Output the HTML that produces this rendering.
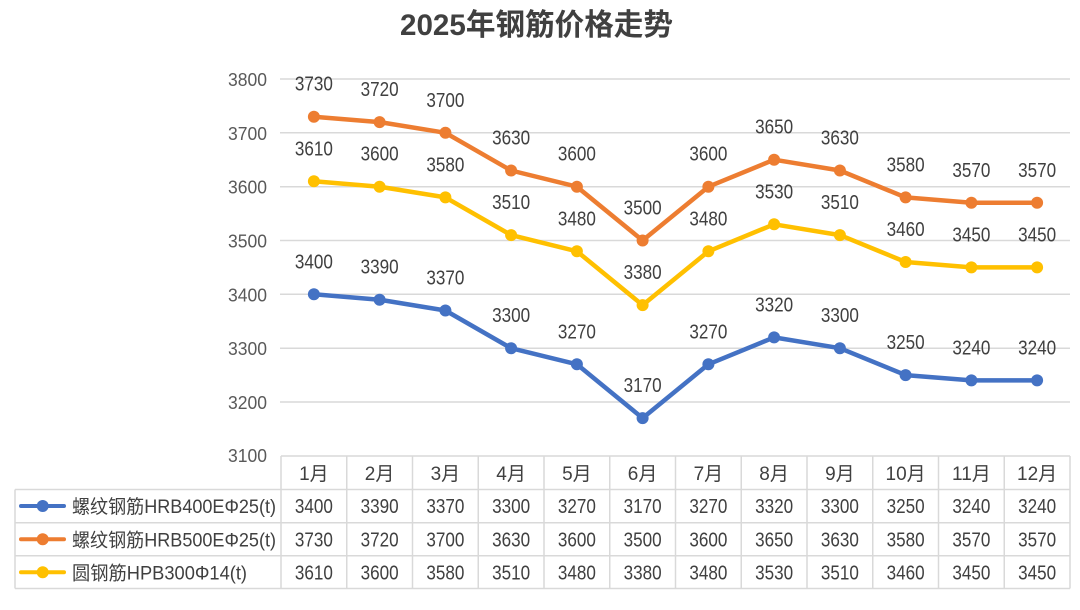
<!DOCTYPE html>
<html>
<head>
<meta charset="utf-8">
<style>
  html,body{margin:0;padding:0;background:#fff;}
  body{width:1080px;height:610px;overflow:hidden;}
  svg{display:block;}
  text{font-family:"Liberation Sans","Noto Sans CJK SC",sans-serif;}
</style>
</head>
<body>
<svg width="1080" height="610" viewBox="0 0 1080 610" xmlns="http://www.w3.org/2000/svg">
  <rect width="1080" height="610" fill="#ffffff"/>

  <!-- Title -->
  <text x="536.5" y="35" text-anchor="middle" font-size="30" font-weight="bold" fill="#404040" textLength="273" lengthAdjust="spacingAndGlyphs">2025年钢筋价格走势</text>

  <!-- Gridlines -->
  <g stroke="#d9d9d9" stroke-width="1.5">
    <line x1="280" y1="79" x2="1070" y2="79"/>
    <line x1="280" y1="132.8" x2="1070" y2="132.8"/>
    <line x1="280" y1="186.7" x2="1070" y2="186.7"/>
    <line x1="280" y1="240.5" x2="1070" y2="240.5"/>
    <line x1="280" y1="294.3" x2="1070" y2="294.3"/>
    <line x1="280" y1="348.2" x2="1070" y2="348.2"/>
    <line x1="280" y1="402" x2="1070" y2="402"/>
  </g>

  <!-- Y axis labels -->
  <g font-size="18" fill="#595959" text-anchor="end">
    <text x="267" y="86" textLength="39" lengthAdjust="spacingAndGlyphs">3800</text>
    <text x="267" y="139.8" textLength="39" lengthAdjust="spacingAndGlyphs">3700</text>
    <text x="267" y="193.7" textLength="39" lengthAdjust="spacingAndGlyphs">3600</text>
    <text x="267" y="247.5" textLength="39" lengthAdjust="spacingAndGlyphs">3500</text>
    <text x="267" y="301.3" textLength="39" lengthAdjust="spacingAndGlyphs">3400</text>
    <text x="267" y="355.2" textLength="39" lengthAdjust="spacingAndGlyphs">3300</text>
    <text x="267" y="409" textLength="39" lengthAdjust="spacingAndGlyphs">3200</text>
    <text x="267" y="462" textLength="39" lengthAdjust="spacingAndGlyphs">3100</text>
  </g>

  <!-- Series: orange HRB500E -->
  <polyline fill="none" stroke="#ED7D31" stroke-width="4.5" stroke-linejoin="round"
    points="313.9,116.7 379.6,122.1 445.4,132.8 511.1,170.5 576.9,186.7 642.6,240.5 708.4,186.7 774.1,159.7 839.9,170.5 905.6,197.4 971.4,202.8 1037.1,202.8"/>
  <g fill="#ED7D31">
    <circle cx="313.9" cy="116.7" r="6"/><circle cx="379.6" cy="122.1" r="6"/><circle cx="445.4" cy="132.8" r="6"/>
    <circle cx="511.1" cy="170.5" r="6"/><circle cx="576.9" cy="186.7" r="6"/><circle cx="642.6" cy="240.5" r="6"/>
    <circle cx="708.4" cy="186.7" r="6"/><circle cx="774.1" cy="159.7" r="6"/><circle cx="839.9" cy="170.5" r="6"/>
    <circle cx="905.6" cy="197.4" r="6"/><circle cx="971.4" cy="202.8" r="6"/><circle cx="1037.1" cy="202.8" r="6"/>
  </g>

  <!-- Series: yellow HPB300 -->
  <polyline fill="none" stroke="#FFC000" stroke-width="4.5" stroke-linejoin="round"
    points="313.9,181.3 379.6,186.7 445.4,197.4 511.1,235.1 576.9,251.3 642.6,305.1 708.4,251.3 774.1,224.3 839.9,235.1 905.6,262 971.4,267.4 1037.1,267.4"/>
  <g fill="#FFC000">
    <circle cx="313.9" cy="181.3" r="6"/><circle cx="379.6" cy="186.7" r="6"/><circle cx="445.4" cy="197.4" r="6"/>
    <circle cx="511.1" cy="235.1" r="6"/><circle cx="576.9" cy="251.3" r="6"/><circle cx="642.6" cy="305.1" r="6"/>
    <circle cx="708.4" cy="251.3" r="6"/><circle cx="774.1" cy="224.3" r="6"/><circle cx="839.9" cy="235.1" r="6"/>
    <circle cx="905.6" cy="262" r="6"/><circle cx="971.4" cy="267.4" r="6"/><circle cx="1037.1" cy="267.4" r="6"/>
  </g>

  <!-- Series: blue HRB400E -->
  <polyline fill="none" stroke="#4472C4" stroke-width="4.5" stroke-linejoin="round"
    points="313.9,294.3 379.6,299.7 445.4,310.5 511.1,348.2 576.9,364.3 642.6,418.1 708.4,364.3 774.1,337.4 839.9,348.2 905.6,375.1 971.4,380.4 1037.1,380.4"/>
  <g fill="#4472C4">
    <circle cx="313.9" cy="294.3" r="6"/><circle cx="379.6" cy="299.7" r="6"/><circle cx="445.4" cy="310.5" r="6"/>
    <circle cx="511.1" cy="348.2" r="6"/><circle cx="576.9" cy="364.3" r="6"/><circle cx="642.6" cy="418.1" r="6"/>
    <circle cx="708.4" cy="364.3" r="6"/><circle cx="774.1" cy="337.4" r="6"/><circle cx="839.9" cy="348.2" r="6"/>
    <circle cx="905.6" cy="375.1" r="6"/><circle cx="971.4" cy="380.4" r="6"/><circle cx="1037.1" cy="380.4" r="6"/>
  </g>

  <!-- Data labels -->
  <g font-size="20" fill="#404040" text-anchor="middle">
    <!-- orange -->
    <text x="313.9" y="90.7" textLength="38" lengthAdjust="spacingAndGlyphs">3730</text>
    <text x="379.6" y="96.1" textLength="38" lengthAdjust="spacingAndGlyphs">3720</text>
    <text x="445.4" y="106.8" textLength="38" lengthAdjust="spacingAndGlyphs">3700</text>
    <text x="511.1" y="144.5" textLength="38" lengthAdjust="spacingAndGlyphs">3630</text>
    <text x="576.9" y="160.7" textLength="38" lengthAdjust="spacingAndGlyphs">3600</text>
    <text x="642.6" y="214.5" textLength="38" lengthAdjust="spacingAndGlyphs">3500</text>
    <text x="708.4" y="160.7" textLength="38" lengthAdjust="spacingAndGlyphs">3600</text>
    <text x="774.1" y="133.7" textLength="38" lengthAdjust="spacingAndGlyphs">3650</text>
    <text x="839.9" y="144.5" textLength="38" lengthAdjust="spacingAndGlyphs">3630</text>
    <text x="905.6" y="171.4" textLength="38" lengthAdjust="spacingAndGlyphs">3580</text>
    <text x="971.4" y="176.8" textLength="38" lengthAdjust="spacingAndGlyphs">3570</text>
    <text x="1037.1" y="176.8" textLength="38" lengthAdjust="spacingAndGlyphs">3570</text>
    <!-- yellow -->
    <text x="313.9" y="155.3" textLength="38" lengthAdjust="spacingAndGlyphs">3610</text>
    <text x="379.6" y="160.7" textLength="38" lengthAdjust="spacingAndGlyphs">3600</text>
    <text x="445.4" y="171.4" textLength="38" lengthAdjust="spacingAndGlyphs">3580</text>
    <text x="511.1" y="209.1" textLength="38" lengthAdjust="spacingAndGlyphs">3510</text>
    <text x="576.9" y="225.3" textLength="38" lengthAdjust="spacingAndGlyphs">3480</text>
    <text x="642.6" y="279.1" textLength="38" lengthAdjust="spacingAndGlyphs">3380</text>
    <text x="708.4" y="225.3" textLength="38" lengthAdjust="spacingAndGlyphs">3480</text>
    <text x="774.1" y="198.3" textLength="38" lengthAdjust="spacingAndGlyphs">3530</text>
    <text x="839.9" y="209.1" textLength="38" lengthAdjust="spacingAndGlyphs">3510</text>
    <text x="905.6" y="236" textLength="38" lengthAdjust="spacingAndGlyphs">3460</text>
    <text x="971.4" y="241.4" textLength="38" lengthAdjust="spacingAndGlyphs">3450</text>
    <text x="1037.1" y="241.4" textLength="38" lengthAdjust="spacingAndGlyphs">3450</text>
    <!-- blue -->
    <text x="313.9" y="268.3" textLength="38" lengthAdjust="spacingAndGlyphs">3400</text>
    <text x="379.6" y="273.7" textLength="38" lengthAdjust="spacingAndGlyphs">3390</text>
    <text x="445.4" y="284.5" textLength="38" lengthAdjust="spacingAndGlyphs">3370</text>
    <text x="511.1" y="322.2" textLength="38" lengthAdjust="spacingAndGlyphs">3300</text>
    <text x="576.9" y="338.3" textLength="38" lengthAdjust="spacingAndGlyphs">3270</text>
    <text x="642.6" y="392.1" textLength="38" lengthAdjust="spacingAndGlyphs">3170</text>
    <text x="708.4" y="338.3" textLength="38" lengthAdjust="spacingAndGlyphs">3270</text>
    <text x="774.1" y="311.4" textLength="38" lengthAdjust="spacingAndGlyphs">3320</text>
    <text x="839.9" y="322.2" textLength="38" lengthAdjust="spacingAndGlyphs">3300</text>
    <text x="905.6" y="349.1" textLength="38" lengthAdjust="spacingAndGlyphs">3250</text>
    <text x="971.4" y="354.4" textLength="38" lengthAdjust="spacingAndGlyphs">3240</text>
    <text x="1037.1" y="354.4" textLength="38" lengthAdjust="spacingAndGlyphs">3240</text>
  </g>

  <!-- Data table borders -->
  <g stroke="#d9d9d9" stroke-width="1.5" fill="none">
    <!-- header row box -->
    <line x1="281" y1="456" x2="1070" y2="456"/>
    <line x1="15" y1="489.5" x2="1070" y2="489.5"/>
    <line x1="15" y1="522.8" x2="1070" y2="522.8"/>
    <line x1="15" y1="555.8" x2="1070" y2="555.8"/>
    <line x1="15" y1="588.5" x2="1070" y2="588.5"/>
    <line x1="15" y1="489.5" x2="15" y2="588.5"/>
    <line x1="281" y1="456" x2="281" y2="588.5"/>
    <line x1="346.75" y1="456" x2="346.75" y2="588.5"/>
    <line x1="412.5" y1="456" x2="412.5" y2="588.5"/>
    <line x1="478.25" y1="456" x2="478.25" y2="588.5"/>
    <line x1="544" y1="456" x2="544" y2="588.5"/>
    <line x1="609.75" y1="456" x2="609.75" y2="588.5"/>
    <line x1="675.5" y1="456" x2="675.5" y2="588.5"/>
    <line x1="741.25" y1="456" x2="741.25" y2="588.5"/>
    <line x1="807" y1="456" x2="807" y2="588.5"/>
    <line x1="872.75" y1="456" x2="872.75" y2="588.5"/>
    <line x1="938.5" y1="456" x2="938.5" y2="588.5"/>
    <line x1="1004.25" y1="456" x2="1004.25" y2="588.5"/>
    <line x1="1070" y1="456" x2="1070" y2="588.5"/>
  </g>

  <!-- Header months -->
  <g font-size="19" fill="#404040" text-anchor="middle">
    <text x="313.9" y="480">1月</text>
    <text x="379.6" y="480">2月</text>
    <text x="445.4" y="480">3月</text>
    <text x="511.1" y="480">4月</text>
    <text x="576.9" y="480">5月</text>
    <text x="642.6" y="480">6月</text>
    <text x="708.4" y="480">7月</text>
    <text x="774.1" y="480">8月</text>
    <text x="839.9" y="480">9月</text>
    <text x="905.6" y="480">10月</text>
    <text x="971.4" y="480">11月</text>
    <text x="1037.1" y="480">12月</text>
  </g>

  <!-- Legend keys -->
  <g stroke-width="4" stroke-linecap="round">
    <line x1="21" y1="506" x2="64" y2="506" stroke="#4472C4"/>
    <line x1="21" y1="539.3" x2="64" y2="539.3" stroke="#ED7D31"/>
    <line x1="21" y1="572.3" x2="64" y2="572.3" stroke="#FFC000"/>
  </g>
  <circle cx="42.7" cy="506" r="6" fill="#4472C4"/>
  <circle cx="42.7" cy="539.3" r="6" fill="#ED7D31"/>
  <circle cx="42.7" cy="572.3" r="6" fill="#FFC000"/>

  <!-- Legend labels -->
  <g font-size="19" fill="#404040">
    <text x="72" y="513" textLength="204" lengthAdjust="spacingAndGlyphs">螺纹钢筋HRB400EΦ25(t)</text>
    <text x="72" y="546.3" textLength="204" lengthAdjust="spacingAndGlyphs">螺纹钢筋HRB500EΦ25(t)</text>
    <text x="72" y="579.3" textLength="175" lengthAdjust="spacingAndGlyphs">圆钢筋HPB300Φ14(t)</text>
  </g>

  <!-- Table values -->
  <g font-size="20" fill="#404040" text-anchor="middle">
    <!-- blue row -->
    <text x="313.9" y="513" textLength="38" lengthAdjust="spacingAndGlyphs">3400</text>
    <text x="379.6" y="513" textLength="38" lengthAdjust="spacingAndGlyphs">3390</text>
    <text x="445.4" y="513" textLength="38" lengthAdjust="spacingAndGlyphs">3370</text>
    <text x="511.1" y="513" textLength="38" lengthAdjust="spacingAndGlyphs">3300</text>
    <text x="576.9" y="513" textLength="38" lengthAdjust="spacingAndGlyphs">3270</text>
    <text x="642.6" y="513" textLength="38" lengthAdjust="spacingAndGlyphs">3170</text>
    <text x="708.4" y="513" textLength="38" lengthAdjust="spacingAndGlyphs">3270</text>
    <text x="774.1" y="513" textLength="38" lengthAdjust="spacingAndGlyphs">3320</text>
    <text x="839.9" y="513" textLength="38" lengthAdjust="spacingAndGlyphs">3300</text>
    <text x="905.6" y="513" textLength="38" lengthAdjust="spacingAndGlyphs">3250</text>
    <text x="971.4" y="513" textLength="38" lengthAdjust="spacingAndGlyphs">3240</text>
    <text x="1037.1" y="513" textLength="38" lengthAdjust="spacingAndGlyphs">3240</text>
    <!-- orange row -->
    <text x="313.9" y="546.3" textLength="38" lengthAdjust="spacingAndGlyphs">3730</text>
    <text x="379.6" y="546.3" textLength="38" lengthAdjust="spacingAndGlyphs">3720</text>
    <text x="445.4" y="546.3" textLength="38" lengthAdjust="spacingAndGlyphs">3700</text>
    <text x="511.1" y="546.3" textLength="38" lengthAdjust="spacingAndGlyphs">3630</text>
    <text x="576.9" y="546.3" textLength="38" lengthAdjust="spacingAndGlyphs">3600</text>
    <text x="642.6" y="546.3" textLength="38" lengthAdjust="spacingAndGlyphs">3500</text>
    <text x="708.4" y="546.3" textLength="38" lengthAdjust="spacingAndGlyphs">3600</text>
    <text x="774.1" y="546.3" textLength="38" lengthAdjust="spacingAndGlyphs">3650</text>
    <text x="839.9" y="546.3" textLength="38" lengthAdjust="spacingAndGlyphs">3630</text>
    <text x="905.6" y="546.3" textLength="38" lengthAdjust="spacingAndGlyphs">3580</text>
    <text x="971.4" y="546.3" textLength="38" lengthAdjust="spacingAndGlyphs">3570</text>
    <text x="1037.1" y="546.3" textLength="38" lengthAdjust="spacingAndGlyphs">3570</text>
    <!-- yellow row -->
    <text x="313.9" y="579.3" textLength="38" lengthAdjust="spacingAndGlyphs">3610</text>
    <text x="379.6" y="579.3" textLength="38" lengthAdjust="spacingAndGlyphs">3600</text>
    <text x="445.4" y="579.3" textLength="38" lengthAdjust="spacingAndGlyphs">3580</text>
    <text x="511.1" y="579.3" textLength="38" lengthAdjust="spacingAndGlyphs">3510</text>
    <text x="576.9" y="579.3" textLength="38" lengthAdjust="spacingAndGlyphs">3480</text>
    <text x="642.6" y="579.3" textLength="38" lengthAdjust="spacingAndGlyphs">3380</text>
    <text x="708.4" y="579.3" textLength="38" lengthAdjust="spacingAndGlyphs">3480</text>
    <text x="774.1" y="579.3" textLength="38" lengthAdjust="spacingAndGlyphs">3530</text>
    <text x="839.9" y="579.3" textLength="38" lengthAdjust="spacingAndGlyphs">3510</text>
    <text x="905.6" y="579.3" textLength="38" lengthAdjust="spacingAndGlyphs">3460</text>
    <text x="971.4" y="579.3" textLength="38" lengthAdjust="spacingAndGlyphs">3450</text>
    <text x="1037.1" y="579.3" textLength="38" lengthAdjust="spacingAndGlyphs">3450</text>
  </g>
</svg>
</body>
</html>
